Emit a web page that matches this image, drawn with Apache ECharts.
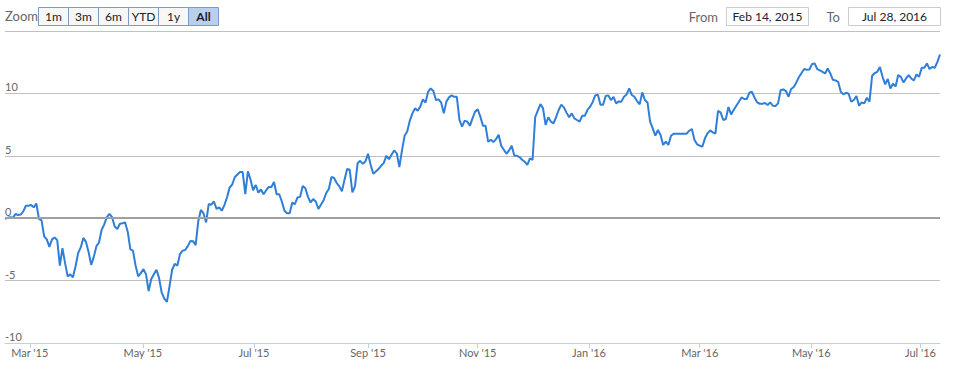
<!DOCTYPE html>
<html><head><meta charset="utf-8">
<script src="https://cdn.jsdelivr.net/npm/echarts@6/dist/echarts.min.js"></script>
<style>html,body{margin:0;padding:0;background:#fff}#c{width:953px;height:375px}</style>
</head><body><div id="c"></div>
<script>
// values, in order (one point per trading step)
const seg1 = [-0.05,0.03,0.08,0.03,0.34,0.26,0.29,0.55,1.0,1.0,1.05,0.87,1.18,-0.05,-0.18,-1.45,-1.7,-2.3,-1.7,-1.55,-1.76,-3.8,-2.4,-3.6,-4.66,-4.5,-4.74,-3.87,-2.8,-2.34,-1.58,-1.9,-2.7,-3.74,-3.1,-2.24,-1.95,-0.92,-0.5,0.08,0.34,0.08,-0.66,-0.87,-0.45,-0.4,-0.34,-1.1,-2.5,-2.6,-3.8,-4.66,-4.4,-4.08,-4.5,-5.84,-4.87,-4.5,-4.13,-4.8,-5.97,-6.45,-6.7,-5.45,-4.13,-3.66,-3.8,-2.87,-2.6,-2.55,-2.24,-1.82,-1.84,-2.16,-0.24,0.66,0.39,-0.34,1.13,1.08,1.34,0.74,0.87,0.6,1.05,1.66,2.45,2.7,3.3,3.5,3.7,3.7,1.92,3.76,3.1,2.24,2.66,2.05,2.3,1.92,2.24,2.5,2.5,2.9,1.92,1.92,1.34,0.6,0.39,0.39,1.26,1.13,1.66,1.71,2.58,2.4,1.71,1.26,1.53,1.34,0.74];
const seg2 = [1.1,1.44,2.02,2.34,3.3,3.22,2.82,2.55,2.15,3.09,3.94,3.88,2.07,2.55,4.4,4.6,4.36,4.55,5.16,4.28,3.56,3.75,3.94,4.2,4.41,5.0,4.73,5.08,5.43,5.2,4.1,5.43,6.6,6.94,7.82,8.4,8.8,8.62,8.94,9.52,9.26,10.13,10.4,10.2,9.47,9.52,9.26,8.4,9.34,9.68,9.84,9.73,9.73,7.87,7.34,7.82,7.74,7.4,8.0,8.54,8.72,8.14,7.4,7.4,6.12,6.28,6.1,6.33,6.68,5.8,5.48,5.16,5.43,5.8,5.03,5.0,4.9,4.68,4.52,4.28,4.79,4.68,8.09,8.62,9.15,8.8,7.47,8.09,7.74,7.6,8.09,8.67,9.1,8.88,8.46,8.09,8.4,8.0,7.87,7.74,8.2,8.2,8.67,8.94,9.3,9.84,9.9,9.1,9.1,9.79,9.84,9.47,9.73,9.2,9.36,9.34,9.73];
const seg3 = [9.92,10.4,9.87,9.73,9.39,9.12,10.08,9.47,9.28,7.73,7.2,6.61,7.07,6.67,5.87,6.13,5.87,6.61,6.77,6.77,6.77,6.77,6.77,6.77,7.01,7.15,6.27,5.92,5.81,5.73,6.4,6.8,7.04,6.88,6.77,8.59,8.48,7.87,7.95,8.91,8.32,8.67,9.01,9.33,9.68,9.55,9.55,10.05,10.13,9.65,9.28,9.17,9.17,9.23,9.07,9.28,9.01,8.99,9.2,10.27,10.32,10.19,9.73,10.35,10.51,10.88,11.31,11.63,11.95,11.89,11.92,12.35,12.4,11.95,11.84,11.73,11.6,12.0,11.6,11.09,11.04,10.93,10.13,9.92,10.05,9.97,9.33,9.47,9.79,9.01,9.28,9.2,9.65,9.33,11.41,11.63,11.73,12.11,11.33,10.72,11.15,10.4,10.77,10.56,11.47,11.33,10.88,11.2,11.47,11.2,11.04,11.52,11.33,12.05,12.05,12.4,11.95,12.11,12.05,12.53,13.12];
const values = seg1.concat(seg2, seg3);

// x-axis month ticks (position in steps) and labels
const tickPos = [9.5, 52.8, 95.3, 139, 181, 223.6, 266, 308.7, 350.5];
const tickLabels = ["Mar '15","May '15","Jul '15","Sep '15","Nov '15","Jan '16","Mar '16","May '16","Jul '16"];

// y-axis
const yMin = -10, yMax = 15, yStep = 5;

// range selector texts
const zoomButtons = ["1m","3m","6m","YTD","1y","All"];
const selectedButton = "All";
const fromDate = "Feb 14, 2015";
const toDate = "Jul 28, 2016";

const N = values.length;
const chart = echarts.init(document.getElementById('c'), null, {renderer:'svg'});
const FONT = "Lato, 'Open Sans', 'DejaVu Sans', sans-serif";

const graphics = [];
graphics.push({type:'text', left:5, top:9, style:{text:'Zoom', fill:'#666', font:'13px '+FONT}});
zoomButtons.forEach((b,i)=>{
  const x = 38.5 + i*30;
  const sel = b === selectedButton;
  graphics.push({type:'rect', shape:{x:x, y:7.5, width:30, height:18}, style:{fill: sel ? '#b8cfee' : '#f7f7f7', stroke:'#7b9ac4', lineWidth:1}});
  graphics.push({type:'text', x:x+15, y:16.5, style:{text:b, fill:'#222', font:(sel?'bold ':'')+'12px '+FONT, align:'center', verticalAlign:'middle'}});
});
graphics.push({type:'text', x:718, y:16.5, style:{text:'From', fill:'#666', font:'13px '+FONT, align:'right', verticalAlign:'middle'}});
graphics.push({type:'rect', shape:{x:726.5, y:7.5, width:82, height:18}, style:{fill:'#fff', stroke:'#cccccc', lineWidth:1}});
graphics.push({type:'text', x:767.5, y:16.5, style:{text:fromDate, fill:'#222', font:'12px '+FONT, align:'center', verticalAlign:'middle'}});
graphics.push({type:'text', x:840, y:16.5, style:{text:'To', fill:'#666', font:'13px '+FONT, align:'right', verticalAlign:'middle'}});
graphics.push({type:'rect', shape:{x:848.5, y:7.5, width:92, height:18}, style:{fill:'#fff', stroke:'#cccccc', lineWidth:1}});
graphics.push({type:'text', x:894.5, y:16.5, style:{text:toDate, fill:'#222', font:'12px '+FONT, align:'center', verticalAlign:'middle'}});

chart.setOption({
  animation:false,
  grid:{left:5, right:13, top:31, bottom:32},
  xAxis:{
    type:'value', min:0, max:N-1,
    splitLine:{show:false},
    axisLine:{show:true, onZero:false, lineStyle:{color:'#c0d0e0', width:1}},
    axisTick:{show:true, customValues:tickPos, length:5, lineStyle:{color:'#c0d0e0'}},
    axisLabel:{customValues:tickPos, color:'#666', fontSize:11, fontFamily:FONT, margin:4,
      formatter:(v)=>{const k=tickPos.indexOf(v); return k>=0?tickLabels[k]:'';}}
  },
  yAxis:{
    type:'value', min:yMin, max:yMax, interval:yStep,
    axisLine:{show:false}, axisTick:{show:false},
    splitLine:{lineStyle:{color:'#c0c0c0', width:1}},
    axisLabel:{inside:true, margin:0, verticalAlign:'bottom', align:'left', padding:[0,0,1,0],
      color:'#666', fontSize:11, fontFamily:FONT,
      formatter:(v)=> v===yMax ? '' : String(v)}
  },
  series:[
    {type:'line', data:[], z:1, silent:true,
     markLine:{silent:true, symbol:'none', label:{show:false}, lineStyle:{color:'#a0a0a0', width:2, type:'solid'}, data:[{yAxis:0}]}},
    {type:'line', data:values.map((v,i)=>[i,v]), showSymbol:false, z:3,
     lineStyle:{color:'#2f7ed8', width:2}, itemStyle:{color:'#2f7ed8'}}
  ],
  graphic:graphics
});
</script></body></html>
